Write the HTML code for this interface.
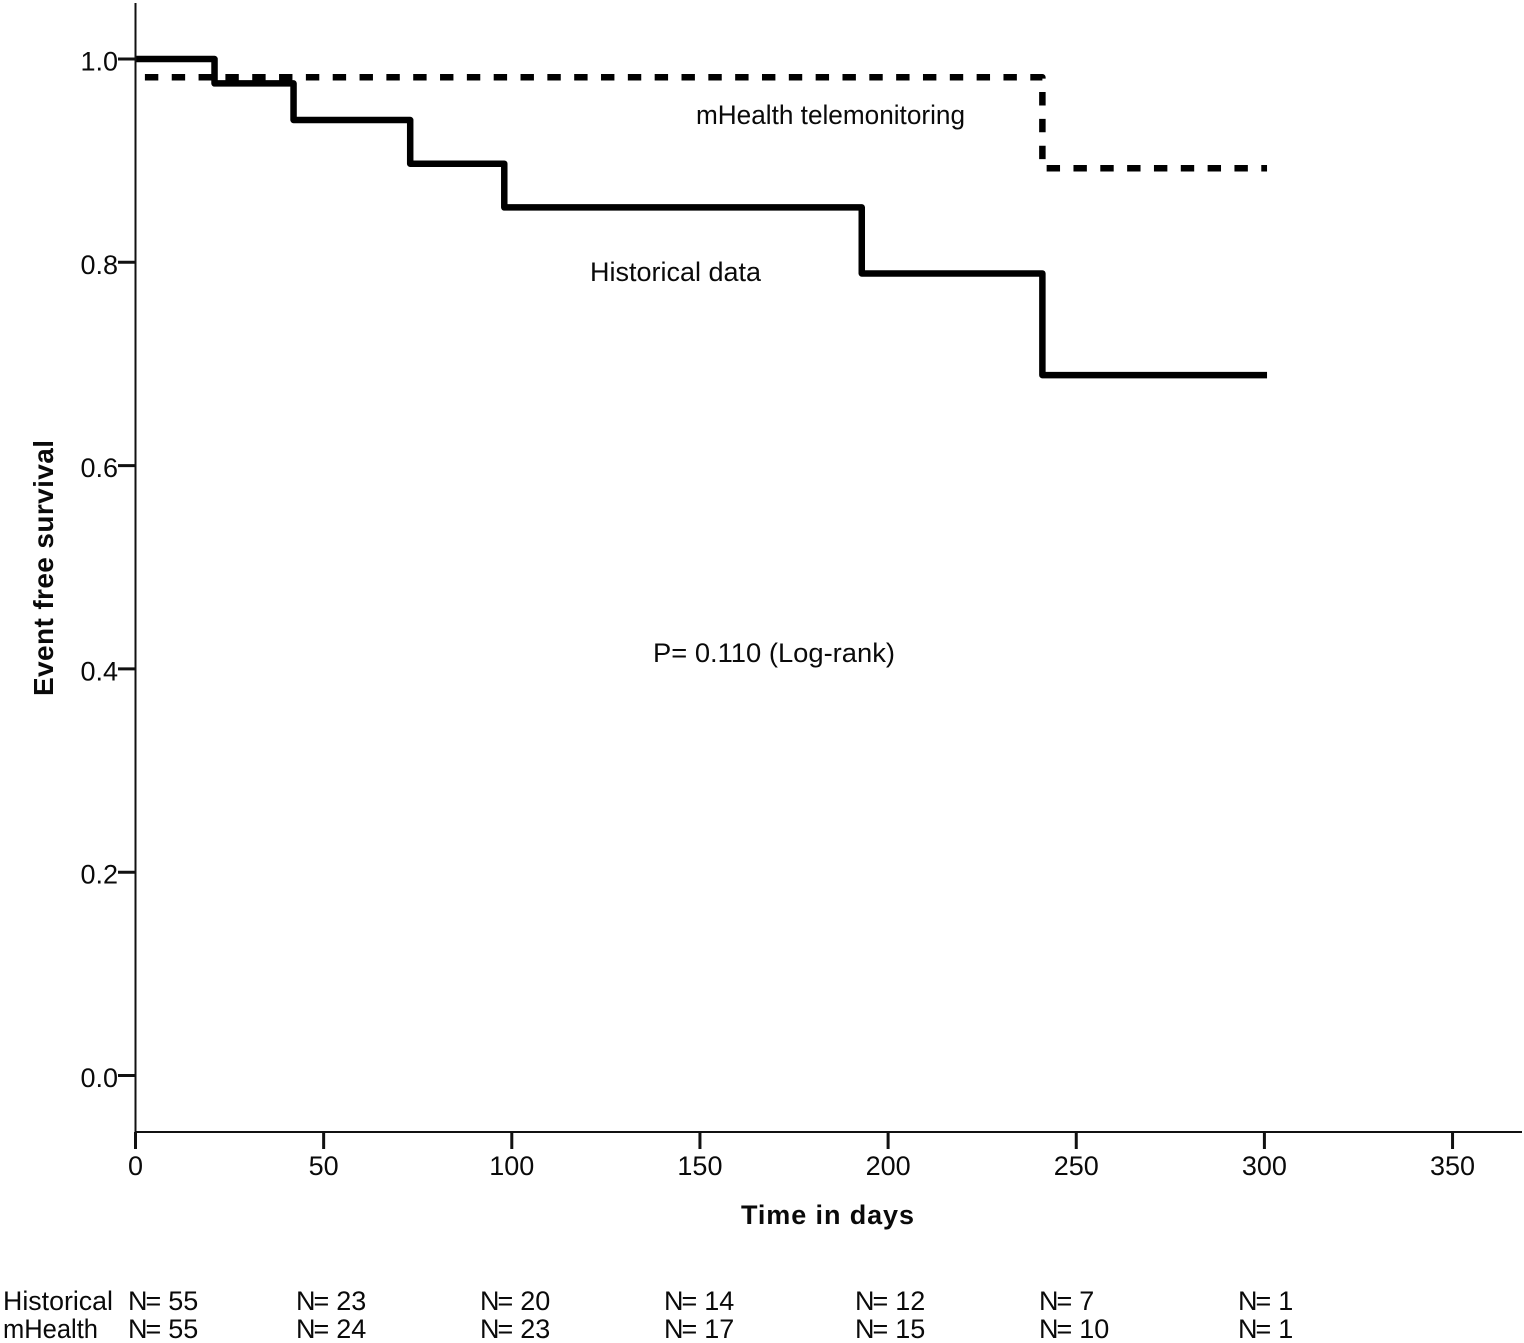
<!DOCTYPE html>
<html lang="en">
<head>
<meta charset="utf-8">
<title>Event free survival</title>
<style>
html,body{margin:0;padding:0;background:#fff;width:1524px;height:1343px;overflow:hidden}
svg{display:block}
text{font-family:"Liberation Sans",sans-serif;fill:#0a0a0a;font-size:27px}
.b{font-weight:bold;font-size:27px}
.by{font-weight:bold;font-size:28px}
</style>
</head>
<body>
<svg id="chart" width="1524" height="1343" viewBox="0 0 1524 1343" xmlns="http://www.w3.org/2000/svg">
  <rect width="1524" height="1343" fill="#fff"/>
  <g id="series"></g>
  <g id="axes"></g>
  <text x="696" y="124" textLength="269" lengthAdjust="spacingAndGlyphs">mHealth telemonitoring</text>
  <text x="590" y="281" textLength="171" lengthAdjust="spacingAndGlyphs">Historical data</text>
  <text x="653" y="662" textLength="242" lengthAdjust="spacingAndGlyphs">P= 0.110 (Log-rank)</text>
  <text class="b" x="741" y="1224" textLength="173" lengthAdjust="spacing">Time in days</text>
  <text class="by" transform="translate(53,696) rotate(-90)" textLength="256" lengthAdjust="spacing">Event free survival</text>
  <g>
    <text x="3" y="1310" textLength="110" lengthAdjust="spacingAndGlyphs">Historical</text>
    <text x="3" y="1338" textLength="95" lengthAdjust="spacingAndGlyphs">mHealth</text>
    <text x="128" y="1310">N<tspan dx="-2">=</tspan><tspan dx="-0.5"> 55</tspan></text>
    <text x="296" y="1310">N<tspan dx="-2">=</tspan><tspan dx="-0.5"> 23</tspan></text>
    <text x="480" y="1310">N<tspan dx="-2">=</tspan><tspan dx="-0.5"> 20</tspan></text>
    <text x="664" y="1310">N<tspan dx="-2">=</tspan><tspan dx="-0.5"> 14</tspan></text>
    <text x="855" y="1310">N<tspan dx="-2">=</tspan><tspan dx="-0.5"> 12</tspan></text>
    <text x="1039" y="1310">N<tspan dx="-2">=</tspan><tspan dx="-0.5"> 7</tspan></text>
    <text x="1238" y="1310">N<tspan dx="-2">=</tspan><tspan dx="-0.5"> 1</tspan></text>
    <text x="128" y="1338">N<tspan dx="-2">=</tspan><tspan dx="-0.5"> 55</tspan></text>
    <text x="296" y="1338">N<tspan dx="-2">=</tspan><tspan dx="-0.5"> 24</tspan></text>
    <text x="480" y="1338">N<tspan dx="-2">=</tspan><tspan dx="-0.5"> 23</tspan></text>
    <text x="664" y="1338">N<tspan dx="-2">=</tspan><tspan dx="-0.5"> 17</tspan></text>
    <text x="855" y="1338">N<tspan dx="-2">=</tspan><tspan dx="-0.5"> 15</tspan></text>
    <text x="1039" y="1338">N<tspan dx="-2">=</tspan><tspan dx="-0.5"> 10</tspan></text>
    <text x="1238" y="1338">N<tspan dx="-2">=</tspan><tspan dx="-0.5"> 1</tspan></text>
  </g>
</svg>
<script>
const xTicks = [0, 50, 100, 150, 200, 250, 300, 350];
const yTicks = [0.0, 0.2, 0.4, 0.6, 0.8, 1.0];
const historicalTimes = [0, 21, 42, 73, 98, 193, 241, 300.7];
const historicalSurvival = [1.0, 0.976, 0.94, 0.897, 0.854, 0.789, 0.689];
const mhealthTimes = [2.5, 241, 300.7];
const mhealthSurvival = [0.982, 0.8925];

const NS = 'http://www.w3.org/2000/svg';
function xAxis(t) { return 135.5 + t * 3.763; }
function yAxis(s) { return 1075.5 - s * 1016.5; }
function stepPath(times, values) {
  let d = 'M' + xAxis(times[0]) + ' ' + yAxis(values[0]);
  for (let i = 1; i < times.length; i++) {
    d += 'H' + xAxis(times[i]);
    if (i < values.length) d += 'V' + yAxis(values[i]);
  }
  return d;
}
function make(tag, attrs, parent) {
  const el = document.createElementNS(NS, tag);
  for (const k in attrs) el.setAttribute(k, attrs[k]);
  parent.appendChild(el);
  return el;
}
const seriesGroup = document.getElementById('series');
const axesGroup = document.getElementById('axes');

const mhealthLine = make('path', {d: stepPath(mhealthTimes, mhealthSurvival), fill: 'none', stroke: '#000', 'stroke-width': 6.5, 'stroke-dasharray': '13.4 13.43', 'stroke-linejoin': 'round'}, seriesGroup);



const historicalLine = make('path', {d: stepPath(historicalTimes, historicalSurvival), fill: 'none', stroke: '#000', 'stroke-width': 6.5, 'stroke-linejoin': 'round'}, seriesGroup);



const yAxisLine = make('line', {x1: xAxis(0), x2: xAxis(0), y1: 3, y2: 1133, stroke: '#111', 'stroke-width': 2}, axesGroup);



const xAxisLine = make('line', {x1: xAxis(0), x2: 1522, y1: 1132, y2: 1132, stroke: '#111', 'stroke-width': 2}, axesGroup);



xTicks.forEach(function (t) {
  const tick = make('line', {x1: xAxis(t), x2: xAxis(t), y1: 1132, y2: 1149, stroke: '#111', 'stroke-width': 3}, axesGroup);
  
  
  const label = make('text', {x: xAxis(t), y: 1175, 'text-anchor': 'middle'}, axesGroup);
  label.textContent = String(t);
  
  
});
yTicks.forEach(function (s) {
  const tick = make('line', {x1: 118, x2: xAxis(0), y1: yAxis(s), y2: yAxis(s), stroke: '#111', 'stroke-width': 3}, axesGroup);
  
  
  const label = make('text', {x: 118, y: yAxis(s) + 11.5, 'text-anchor': 'end'}, axesGroup);
  label.textContent = s.toFixed(1);
  
  
});
</script>
</body>
</html>
